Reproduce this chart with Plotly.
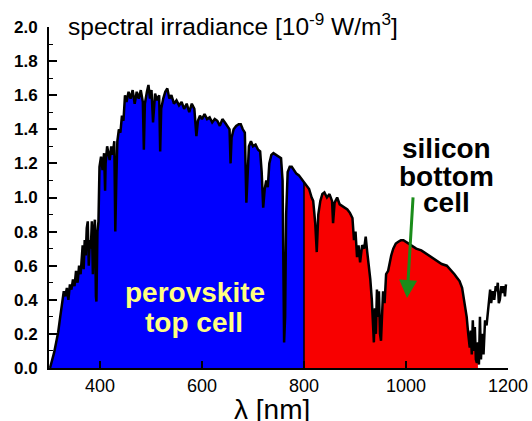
import numpy as np
import plotly.graph_objects as go

# Spectral irradiance (wavelength in nm, value in 1e-9 W/m^3)
wavelength_nm = [
    302, 306, 310, 314, 318, 322, 326, 329, 332, 335, 338, 341, 344, 347, 350, 353, 356, 359, 362, 364,
    366, 368, 370, 372, 374, 376, 378, 380, 382, 384, 386, 388, 390, 392, 393, 395, 397, 399, 402, 405,
    408, 410, 411, 414, 416, 419, 422, 425, 428, 430, 432, 434, 437, 440, 443, 446, 449, 452, 456, 460, 464,
    468, 472, 476, 480, 484, 486, 488, 492, 495, 498, 501, 504, 508, 512, 516, 518, 520, 524, 528, 532,
    536, 540, 545, 550, 555, 560, 565, 570, 575, 580, 585, 589, 592, 596, 600, 605, 610, 615, 620, 625,
    630, 635, 640, 645, 650, 654, 656, 658, 662, 667, 672, 676, 680, 684, 687, 689, 692, 696, 700, 705,
    710, 714, 717, 720, 723, 726, 729, 732, 736, 740, 745, 750, 755, 758, 761, 763, 765, 768, 772, 776,
    780, 785, 790, 795, 800, 805, 810, 815, 818, 822, 825, 828, 832, 836, 840, 845, 850, 855, 857, 860,
    865, 870, 875, 880, 885, 890, 895, 898, 901, 904, 907, 910, 914, 918, 921, 924, 927, 930, 933, 935,
    937, 939, 941, 943, 945, 947, 949, 951, 953, 955, 958, 961, 965, 968, 971, 975, 980, 985, 990, 995,
    1000, 1005, 1010, 1015, 1020, 1030, 1040, 1050, 1060, 1070, 1080, 1090, 1095, 1100, 1105, 1110, 1113, 1116, 1119, 1122,
    1125, 1127, 1129, 1131, 1133, 1135, 1137, 1139, 1141, 1143, 1145, 1147, 1149, 1152, 1155, 1158, 1161, 1163, 1165, 1167,
    1170, 1173, 1176, 1178, 1180, 1182, 1184, 1187, 1190, 1192, 1194, 1196,
]
irradiance = [
    0.00, 0.04, 0.09, 0.15, 0.21, 0.30, 0.38, 0.45, 0.42, 0.47, 0.40, 0.49, 0.46, 0.52, 0.48, 0.57, 0.50, 0.60, 0.55, 0.65,
    0.72, 0.58, 0.75, 0.66, 0.82, 0.86, 0.60, 0.75, 0.70, 0.86, 0.55, 0.80, 0.87, 0.42, 0.39, 0.80, 0.86, 1.18, 1.24, 1.16,
    1.26, 1.04, 1.20, 1.30, 1.27, 1.22, 1.30, 1.25, 1.33, 0.80, 1.10, 1.33, 1.40, 1.38, 1.48, 1.45, 1.60, 1.56, 1.62, 1.58, 1.63,
    1.55, 1.62, 1.58, 1.63, 1.56, 1.28, 1.55, 1.62, 1.66, 1.58, 1.63, 1.44, 1.61, 1.57, 1.60, 1.27, 1.52, 1.58, 1.62, 1.64,
    1.58, 1.60, 1.55, 1.57, 1.54, 1.56, 1.52, 1.55, 1.50, 1.55, 1.52, 1.36, 1.45, 1.48, 1.46, 1.49, 1.46, 1.47, 1.44, 1.46,
    1.45, 1.42, 1.46, 1.44, 1.42, 1.40, 1.20, 1.35, 1.40, 1.42, 1.43, 1.43, 1.40, 1.38, 0.97, 1.10, 1.30, 1.33, 1.30, 1.31,
    1.28, 1.27, 1.15, 0.94, 1.05, 1.10, 1.06, 1.20, 1.25, 1.26, 1.25, 1.24, 1.23, 1.10, 0.15, 0.30, 0.90, 1.15, 1.18, 1.18,
    1.16, 1.14, 1.13, 1.11, 1.09, 1.07, 1.05, 1.00, 0.98, 0.85, 0.68, 0.90, 0.98, 1.02, 1.03, 1.00, 1.02, 0.98, 0.85, 0.97,
    1.00, 0.96, 0.95, 0.94, 0.93, 0.91, 0.88, 0.75, 0.80, 0.65, 0.72, 0.62, 0.72, 0.70, 0.77, 0.68, 0.60, 0.52, 0.40, 0.25,
    0.15, 0.35, 0.20, 0.46, 0.30, 0.45, 0.20, 0.16, 0.30, 0.45, 0.38, 0.55, 0.57, 0.62, 0.66, 0.70, 0.73, 0.74, 0.75, 0.75,
    0.74, 0.73, 0.72, 0.71, 0.70, 0.69, 0.67, 0.65, 0.63, 0.61, 0.60, 0.57, 0.55, 0.53, 0.51, 0.47, 0.42, 0.36, 0.30, 0.20,
    0.12, 0.22, 0.08, 0.28, 0.10, 0.24, 0.05, 0.03, 0.15, 0.02, 0.30, 0.05, 0.20, 0.08, 0.28, 0.25, 0.35, 0.42, 0.46, 0.38,
    0.45, 0.40, 0.48, 0.45, 0.50, 0.38, 0.40, 0.48, 0.44, 0.48, 0.42, 0.49,
]

split_nm = 800      # boundary between perovskite top cell and silicon bottom cell
silicon_end_nm = 1141

y_ticks = [0.0, 0.2, 0.4, 0.6, 0.8, 1.0, 1.2, 1.4, 1.6, 1.8, 2.0]
x_ticks = [400, 600, 800, 1000, 1200]

wl = np.array(wavelength_nm, dtype=float)
irr = np.array(irradiance, dtype=float)
v_split = float(np.interp(split_nm, wl, irr))
v_end = float(np.interp(silicon_end_nm, wl, irr))

m_top = wl < split_nm
x_top = np.concatenate([wl[m_top], [split_nm]])
y_top = np.concatenate([irr[m_top], [v_split]])

m_bot = (wl > split_nm) & (wl < silicon_end_nm)
x_bot = np.concatenate([[split_nm], wl[m_bot], [silicon_end_nm]])
y_bot = np.concatenate([[v_split], irr[m_bot], [v_end]])

fig = go.Figure()
fig.add_trace(go.Scatter(x=x_top, y=y_top, mode="lines", fill="tozeroy",
                         fillcolor="#0000FF", line=dict(width=0, color="#0000FF"),
                         hoverinfo="skip", showlegend=False))
fig.add_trace(go.Scatter(x=x_bot, y=y_bot, mode="lines", fill="tozeroy",
                         fillcolor="#F80000", line=dict(width=0, color="#F80000"),
                         hoverinfo="skip", showlegend=False))
fig.add_trace(go.Scatter(x=[split_nm, split_nm], y=[0, v_split], mode="lines",
                         line=dict(width=1.5, color="black"), hoverinfo="skip", showlegend=False))
fig.add_trace(go.Scatter(x=wl, y=irr, mode="lines",
                         line=dict(width=2.5, color="black"), showlegend=False))

font_family = "Arial, Liberation Sans, Helvetica, sans-serif"

fig.update_layout(
    width=532, height=421,
    margin=dict(l=49, r=24, t=27, b=53),
    paper_bgcolor="white", plot_bgcolor="white",
    font=dict(family=font_family, color="black"),
    xaxis=dict(range=[300, 1200], tickvals=x_ticks, ticks="inside", ticklen=7, tickwidth=1.5,
               tickcolor="black", showline=True, linecolor="black", linewidth=2, automargin=False,
               showgrid=False, zeroline=False, tickfont=dict(size=18, family=font_family)),
    yaxis=dict(range=[0, 2.0], tickvals=y_ticks, tickformat=".1f", ticks="inside", ticklen=8,
               tickwidth=1.5, tickcolor="black", showline=True, linecolor="black", linewidth=2,
               showgrid=False, zeroline=False, ticklabelstandoff=6, automargin=False,
               tickfont=dict(size=17, family=font_family, weight="bold"),
               minor=dict(dtick=0.1, ticks="inside", ticklen=4, tickwidth=1.2, tickcolor="black")),
)

fig.add_annotation(xref="paper", yref="paper", x=0.037, y=1.008, xanchor="left", yanchor="middle",
                   text="spectral irradiance [10<sup>-9</sup> W/m<sup>3</sup>]",
                   showarrow=False, font=dict(size=24.5, family=font_family, color="black"))
fig.add_annotation(xref="paper", yref="paper", x=0.486, y=-0.123, xanchor="center", yanchor="middle",
                   text="λ [nm]", showarrow=False, font=dict(size=28, family=font_family, color="black"))

label_font_y = dict(size=28, family=font_family, color="#FFFF80", weight="bold")
fig.add_annotation(xref="paper", yref="paper", x=0.317, y=0.22, xanchor="center", yanchor="middle",
                   text="perovskite", showarrow=False, font=label_font_y)
fig.add_annotation(xref="paper", yref="paper", x=0.315, y=0.132, xanchor="center", yanchor="middle",
                   text="top cell", showarrow=False, font=label_font_y)

label_font_k = dict(size=28, family=font_family, color="black", weight="bold")
for txt, yy in [("silicon", 0.645), ("bottom", 0.563), ("cell", 0.484)]:
    fig.add_annotation(xref="paper", yref="paper", x=0.867, y=yy, xanchor="center", yanchor="middle",
                       text=txt, showarrow=False, font=label_font_k)

fig.add_annotation(x=1002, y=0.41, ax=1014, ay=1.01, xref="x", yref="y", axref="x", ayref="y",
                   text="", showarrow=True, arrowhead=2, arrowsize=1.2, arrowwidth=3,
                   arrowcolor="#1A8C1A")

fig.write_html("out.html", config={"displayModeBar": False},
               post_script="document.body.style.margin='0';")
